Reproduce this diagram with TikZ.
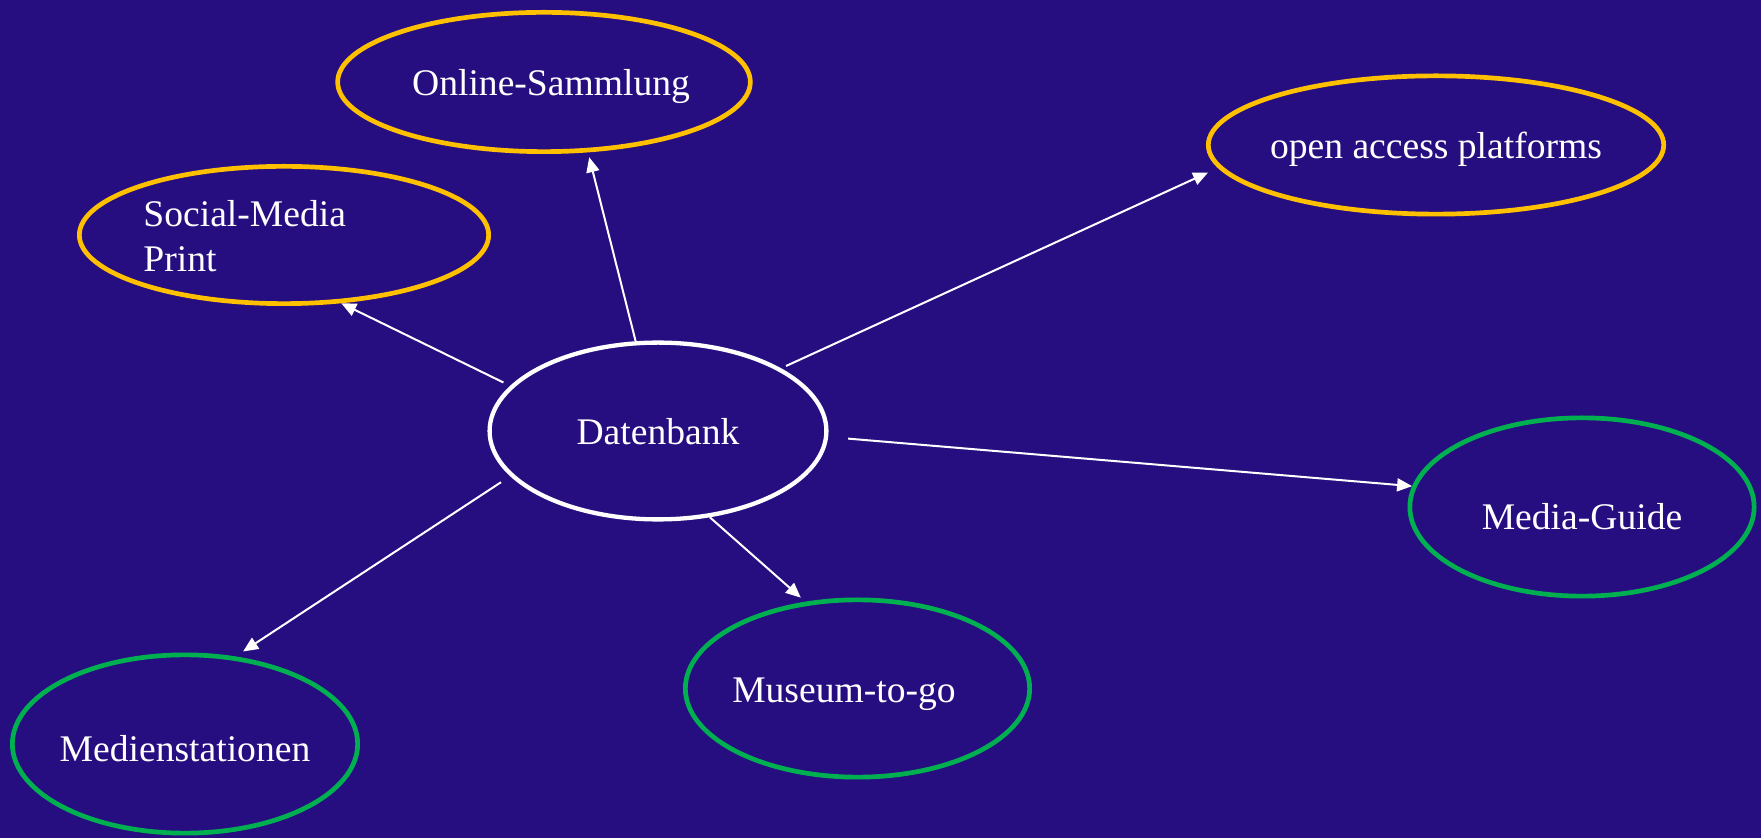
\documentclass[tikz,border=0pt]{standalone}
\usepackage{fontspec}
\setmainfont{Liberation Serif}
\usetikzlibrary{arrows.meta,shapes.geometric}
\definecolor{bgblue}{RGB}{38,14,128}
\definecolor{ovalyellow}{RGB}{255,192,0}
\definecolor{ovalgreen}{RGB}{0,176,80}
\begin{document}
\begin{tikzpicture}[x=0.5pt,y=-0.5pt,
  oval/.style={ellipse,draw,line width=2.35pt,inner sep=0pt,text=white,font=\fontsize{18.8}{22.5}\selectfont},
  link/.style={-{Triangle[length=7.5pt,width=6.5pt]},white,line width=1pt}]
  \fill[bgblue] (0,0) rectangle (1761,838);
  \useasboundingbox (0,0) rectangle (1761,838);
  \node[oval,draw=white,line width=2.15pt,minimum width=168.4pt,minimum height=88.4pt,text height=14pt,text depth=0pt] (db) at (658,431) {Datenbank};
  \node[oval,draw=ovalyellow,minimum width=204.65pt,minimum height=69.65pt,text height=17.5pt,text depth=4pt] (online) at (544,82) {\hspace*{7pt}Online-Sammlung};
  \node[oval,draw=ovalyellow,minimum width=204.65pt,minimum height=68.65pt] (social) at (284,235) {};
  \node[text=white,font=\fontsize{18.8}{22.5}\selectfont,align=left,anchor=west,inner sep=0pt] (socialtext) at (143,236) {Social-Media\\Print};
  \node[oval,draw=ovalyellow,inner xsep=-2.5pt,minimum width=226.15pt,minimum height=69.15pt,text height=18pt,text depth=4pt] (open) at (1436,145) {open access platforms};
  \node[oval,draw=ovalgreen,minimum width=172.15pt,minimum height=89.15pt,text height=26.1pt,text depth=4pt] (guide) at (1582,507) {Media-Guide};
  \node[oval,draw=ovalgreen,inner xsep=-2pt,minimum width=172.15pt,minimum height=88.65pt,text height=17.7pt,text depth=4pt] (museum) at (857.5,688.5) {Museum-to-go\hspace*{13.5pt}};
  \node[oval,draw=ovalgreen,inner xsep=-2pt,minimum width=172.65pt,minimum height=89.15pt,text height=21.3pt,text depth=4pt] (medien) at (185,744) {Medienstationen};
  \draw[link,shorten <=3.75pt] (db.163.7) -- (social.-50.9);
  \draw[link,shorten >=2.5pt] (db.104.2) -- (online.-58.4);
  \draw[link,shorten <=2.75pt,shorten >=5.5pt] (db.27.8) -- (open.186.7);
  \draw[link,shorten <=10pt] (db.-2.5) -- (guide.173.2);
  \draw[link,shorten >=3pt] (db.-59.1) -- (museum.121.3);
  \draw[link,shorten <=5.5pt,shorten >=4.5pt] (db.197.4) -- (medien.60.3);
\end{tikzpicture}
\end{document}
